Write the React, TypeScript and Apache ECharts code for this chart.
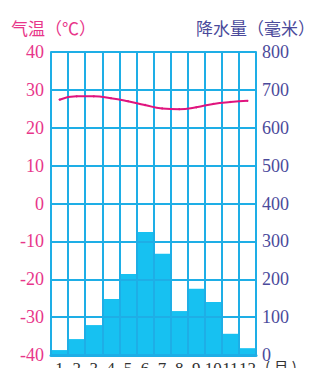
import React, { useEffect, useRef } from "react";
import * as echarts from "echarts";

const months = ["1", "2", "3", "4", "5", "6", "7", "8", "9", "10", "11", "12"];
const temperature = [27.4, 28.3, 28.3, 27.8, 27.0, 26.0, 25.1, 24.9, 25.4, 26.3, 26.8, 27.1];
const precipitation = [13, 42, 79, 148, 214, 325, 267, 116, 175, 140, 56, 18];

const GRID = "#1eaee6";
const BAR = "#17c1f1";
const PINK = "#e8368a";
const LINE = "#e0147e";
const PURPLE = "#4b4a9b";
const FONT = "Liberation Serif, Times New Roman, serif";

export default function App() {
  const ref = useRef<HTMLDivElement>(null);
  useEffect(() => {
    if (!ref.current) return;
    document.body.style.margin = "0";
    const chart = echarts.init(ref.current, undefined, { renderer: "svg" });
    chart.setOption({
      animation: false,
      backgroundColor: "#ffffff",
      grid: {
        left: 51,
        right: 64,
        top: 52,
        bottom: 13,
        containLabel: false,
        outerBoundsMode: "none",
      },
      xAxis: {
        type: "category",
        data: months,
        boundaryGap: true,
        z: 5,
        axisLine: { show: true, onZero: false, lineStyle: { color: GRID, width: 3 } },
        axisTick: { show: false },
        axisLabel: {
          interval: 0,
          color: "#333333",
          fontFamily: FONT,
          fontSize: 17,
          margin: 5,
        },
        splitLine: { show: true, interval: 0, lineStyle: { color: GRID, width: 2 } },
      },
      yAxis: [
        {
          type: "value",
          min: -40,
          max: 40,
          interval: 10,
          position: "left",
          z: 5,
          axisLine: { show: true, lineStyle: { color: GRID, width: 2 } },
          axisTick: { show: false },
          axisLabel: { color: PINK, fontFamily: FONT, fontSize: 18, margin: 7 },
          splitLine: { show: true, lineStyle: { color: GRID, width: 2 } },
        },
        {
          type: "value",
          min: 0,
          max: 800,
          interval: 100,
          position: "right",
          z: 5,
          axisLine: { show: true, lineStyle: { color: GRID, width: 2 } },
          axisTick: { show: false },
          axisLabel: { color: PURPLE, fontFamily: FONT, fontSize: 18, margin: 6 },
          splitLine: { show: false },
        },
      ],
      series: [
        {
          type: "bar",
          yAxisIndex: 1,
          data: precipitation,
          barWidth: "100%",
          barCategoryGap: "0%",
          itemStyle: { color: BAR },
          z: 2,
        },
        {
          type: "line",
          yAxisIndex: 0,
          data: temperature,
          smooth: true,
          symbol: "circle",
          symbolSize: 2,
          itemStyle: { color: LINE },
          lineStyle: { color: LINE, width: 2 },
          z: 10,
        },
      ],
      graphic: [
        {
          type: "text",
          left: 11,
          top: 19,
          style: { text: "气温（℃）", fill: PINK, font: "17px 'Noto Sans CJK SC', sans-serif" },
        },
        {
          type: "text",
          left: 196,
          top: 19,
          style: { text: "降水量（毫米）", fill: PURPLE, font: "17px 'Noto Sans CJK SC', sans-serif" },
        },
        {
          type: "text",
          left: 265,
          top: 359,
          style: { text: "( 月 )", fill: "#333333", font: "15px 'Noto Sans CJK SC', sans-serif" },
        },
      ],
    });
    return () => chart.dispose();
  }, []);
  return <div ref={ref} style={{ width: 320, height: 368 }} />;
}
